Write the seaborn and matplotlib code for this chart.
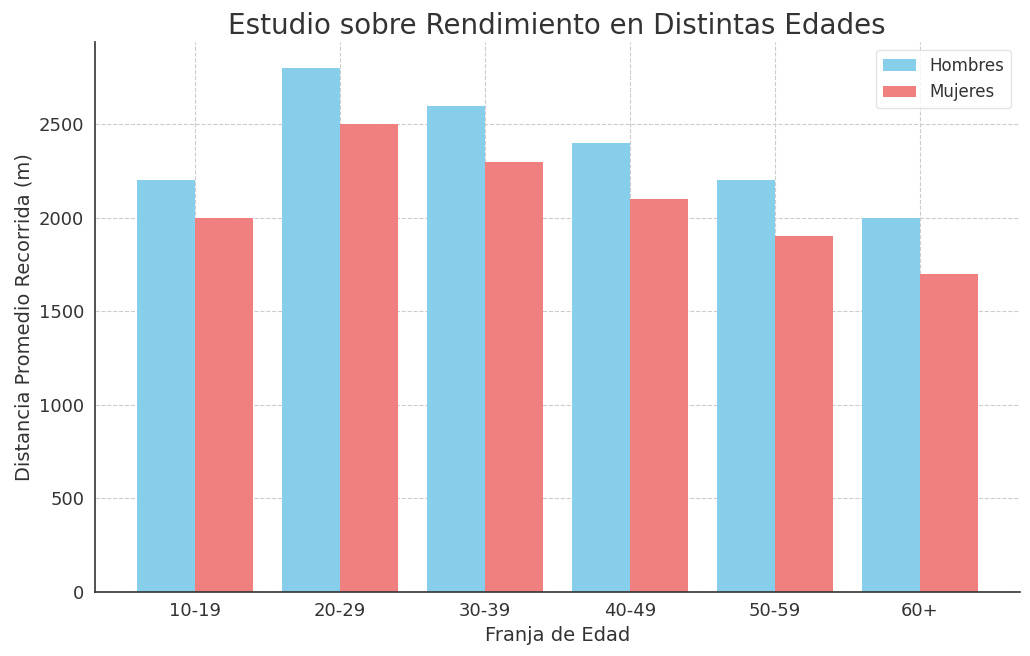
import matplotlib
matplotlib.use("Agg")
import matplotlib.pyplot as plt
import seaborn as sns
import pandas as pd

categorias = ["10-19", "20-29", "30-39", "40-49", "50-59", "60+"]
hombres = [2200, 2800, 2600, 2400, 2200, 2000]
mujeres = [2000, 2500, 2300, 2100, 1900, 1700]
series = ["Hombres", "Mujeres"]
colores = ["#87CEEB", "#F08080"]

df = pd.DataFrame({
    "Franja": categorias * 2,
    "Distancia": hombres + mujeres,
    "Sexo": [series[0]] * len(categorias) + [series[1]] * len(categorias),
})

sns.set_style("white")
plt.rcParams['font.family'] = ['DejaVu Sans']

fig, ax = plt.subplots(figsize=(10.3, 6.56), dpi=100)
sns.barplot(data=df, x="Franja", y="Distancia", hue="Sexo", palette=colores,
            width=0.8, saturation=1, ax=ax, zorder=2, linewidth=0, edgecolor="none")

ax.set_xlim(-0.69, 5.69)
ax.set_ylim(0, 2940)
ax.grid(True, linestyle="--", color="#cccccc", linewidth=0.8, zorder=0)
ax.set_axisbelow(True)
for s in ["top", "right"]:
    ax.spines[s].set_visible(False)
for s in ["left", "bottom"]:
    ax.spines[s].set_color("#333333")
    ax.spines[s].set_linewidth(1.2)

ax.set_title("Estudio sobre Rendimiento en Distintas Edades", fontsize=20, color="#333333")
ax.set_xlabel("Franja de Edad", fontsize=14, color="#333333")
ax.set_ylabel("Distancia Promedio Recorrida (m)", fontsize=14, color="#333333")
ax.tick_params(axis="both", labelsize=13, colors="#333333", length=4)
leg = ax.legend(loc="upper right", fontsize=12, title=None)
for t in leg.get_texts():
    t.set_color("#333333")
leg.get_frame().set_edgecolor("#dddddd")

fig.subplots_adjust(left=0.092, right=0.99, top=0.936, bottom=0.098)
fig.savefig("out.png", dpi=100)
